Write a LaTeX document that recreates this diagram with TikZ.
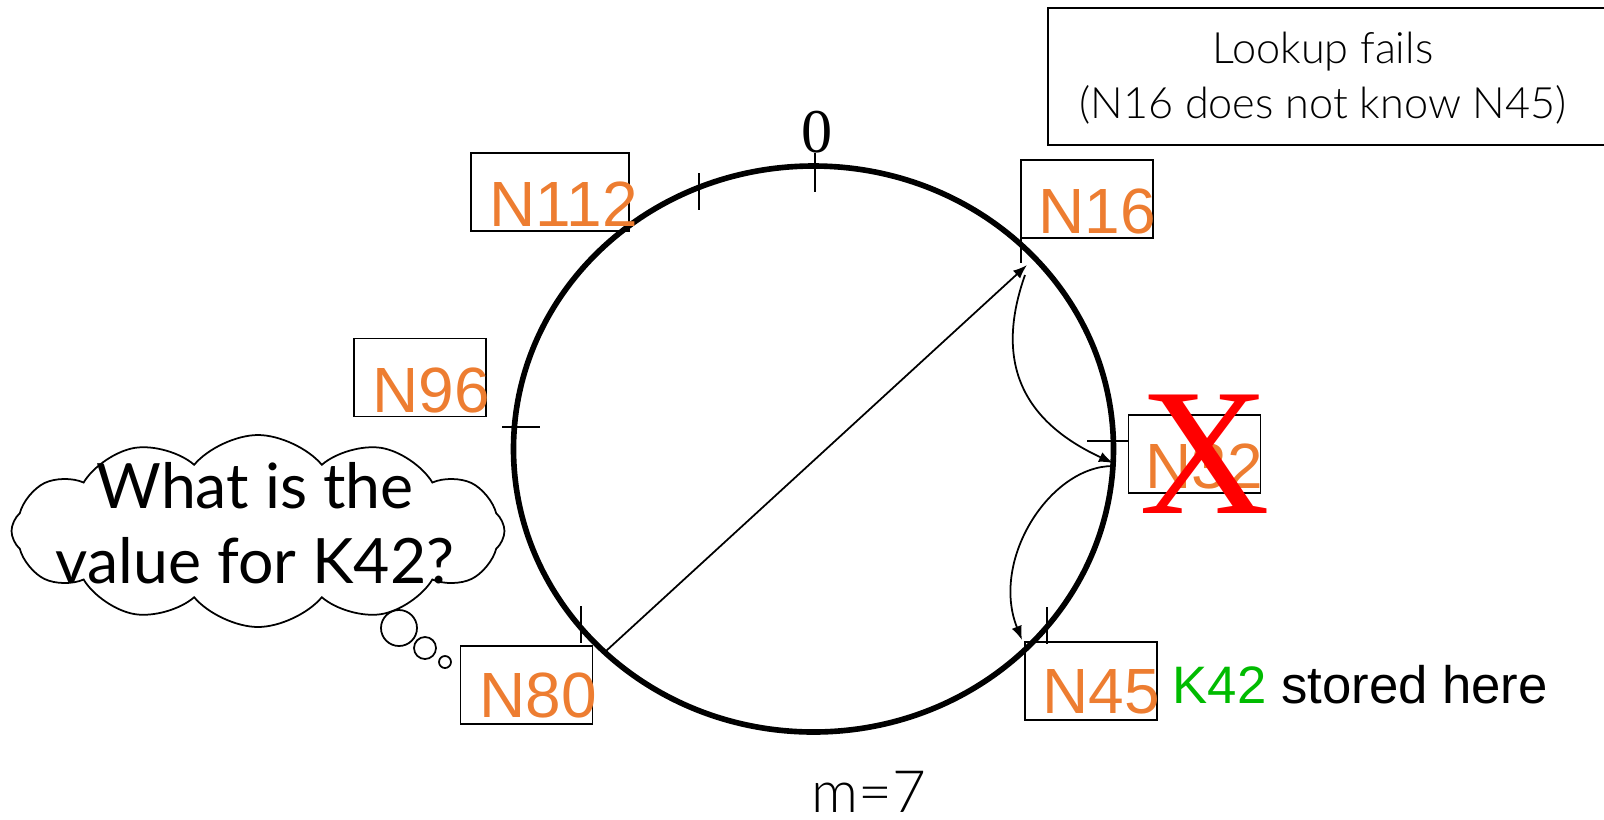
\documentclass[tikz,border=0pt]{standalone}
\usepackage{fontspec}
\setmainfont{Liberation Sans}
\newfontfamily\timesfont{Liberation Serif}
\newfontfamily\gillfont{Lato}
\newfontfamily\gilllight{Lato Light}
\usetikzlibrary{arrows.meta,shapes.symbols}
\definecolor{nodeorange}{RGB}{237,125,49}
\definecolor{keygreen}{RGB}{0,187,0}

\begin{document}
\begin{tikzpicture}[
    nbox/.style={draw,line width=0.5pt,minimum width=1.32cm,minimum height=0.78cm,inner sep=0pt},
    nname/.style={anchor=base west,inner sep=0pt,text=nodeorange,font=\fontsize{18.2}{20}\selectfont},
    tick/.style={line width=0.45pt},
    hop/.style={line width=0.5pt,-{Latex[length=4pt,width=3pt]}}
  ]
  \useasboundingbox (0,0) rectangle (16.04,-8.19);

  % the ring and its ticks
  \draw[line width=1.6pt] (8.135,-4.49) ellipse [x radius=3.0,y radius=2.83];
  \draw[tick] (8.15,-1.53) -- (8.15,-1.92);
  \draw[tick] (6.99,-1.73) -- (6.99,-2.10);
  \draw[tick] (10.21,-2.25) -- (10.21,-2.63);
  \draw[tick] (5.02,-4.27) -- (5.40,-4.27);
  \draw[tick] (10.87,-4.41) -- (11.28,-4.41);
  \draw[tick] (5.81,-6.06) -- (5.81,-6.43);
  \draw[tick] (10.47,-6.07) -- (10.47,-6.44);
  \node[anchor=base,inner sep=0pt,font=\timesfont\fontsize{17.7}{20}\selectfont] (zero) at (8.17,-1.52) {0};

  % peers
  \node[nbox,minimum width=1.58cm] (b112) at (5.50,-1.92) {};
  \node[nbox] (b96) at (4.20,-3.775) {};
  \node[nbox] (b16) at (10.87,-1.99) {};
  \node[nbox] (b32) at (11.945,-4.54) {};
  \node[nbox] (b80) at (5.265,-6.85) {};
  \node[nbox] (b45) at (10.91,-6.81) {};

  \node[nname] (n112) at (4.89,-2.26) {N112};
  \node[nname] (n96) at (3.72,-4.12) {N96};
  \node[nname] (n16) at (10.38,-2.33) {N16};
  \node[nname] (n32) at (11.45,-4.88) {N32};
  \node[nname] (n80) at (4.79,-7.17) {N80};
  \node[nname] (n45) at (10.42,-7.13) {N45};

  \node[anchor=base,inner sep=0pt,text=red,font=\timesfont\fontsize{51.5}{55}\selectfont] (fail) at (12.05,-5.13) {X};

  % lookup path
  \coordinate (p80) at (6.06,-6.51);
  \coordinate (p16) at (10.27,-2.65);
  \coordinate (p16b) at (10.25,-2.75);
  \coordinate (p32) at (11.13,-4.63);
  \coordinate (p32b) at (11.13,-4.66);
  \coordinate (p45) at (10.22,-6.40);

  \draw[hop] (p80) -- (p16);
  \draw[hop] (p16b) .. controls (9.95,-3.6) and (10.2,-4.2) .. (p32);
  \draw[hop] (p32b) .. controls (10.5,-4.66) and (9.9,-5.6) .. (p45);

  % notes
  \node[draw,line width=0.5pt,minimum width=5.8cm,minimum height=1.37cm,anchor=north west,inner sep=0pt] (note) at (10.47,-0.07) {};
  \node[align=center,inner sep=0pt,anchor=base,font=\gilllight\fontsize{12.3}{15.6}\selectfont] (notetxt) at (13.23,-1.18) {Lookup fails\\(N16 does not know N45)};

  \node[anchor=base west,inner sep=0pt,font=\fontsize{15}{18}\selectfont] (stored) at (11.72,-7.03) {\textcolor{keygreen}{K42} stored here};

  \node[anchor=base,inner sep=0pt,font=\gilllight\fontsize{16.6}{20}\selectfont] (m) at (8.69,-8.12) {m=7};

  % the question
  \node[cloud,draw,line width=0.5pt,cloud puffs=12,cloud puff arc=100,minimum width=4.93cm,minimum height=1.92cm,inner sep=0pt] (cloud) at (2.58,-5.31) {};
  \node[align=center,inner sep=0pt,anchor=base,font=\gillfont\fontsize{17.8}{21.3}\selectfont] (ask) at (2.55,-5.83) {What is the\\value for K42?};
  \draw[line width=0.5pt] (3.99,-6.28) circle (0.18);
  \draw[line width=0.5pt] (4.25,-6.48) circle (0.11);
  \draw[line width=0.5pt] (4.45,-6.62) circle (0.06);
\end{tikzpicture}
\end{document}
